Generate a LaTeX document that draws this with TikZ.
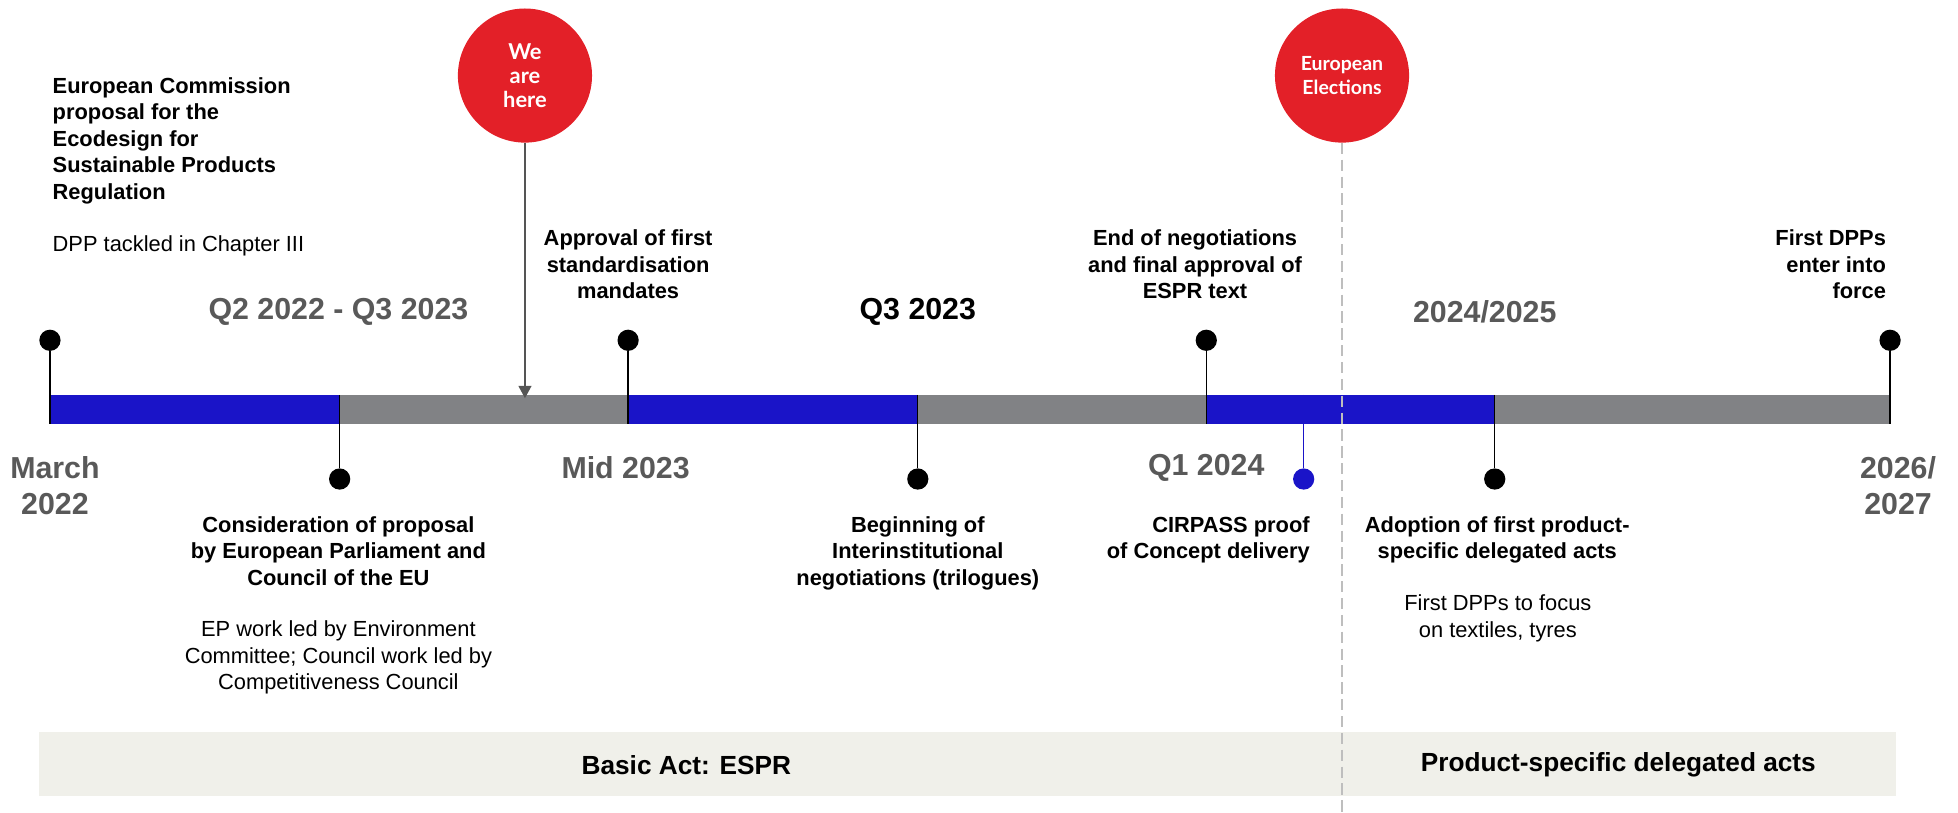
\documentclass[tikz,border=0pt]{standalone}
\usepackage{fontspec}
\setmainfont{Liberation Sans}
\newfontfamily\circfont{Lato}
\usetikzlibrary{arrows.meta}
\definecolor{barblue}{RGB}{26,20,200}
\definecolor{bargray}{RGB}{129,130,133}
\definecolor{eured}{RGB}{227,32,40}
\definecolor{labgray}{RGB}{89,89,89}
\definecolor{bandc}{RGB}{240,240,234}
\definecolor{arrowgray}{RGB}{85,85,85}
\definecolor{dashgray}{RGB}{190,190,190}
\begin{document}
\begin{tikzpicture}[x=1pt,y=-1pt,
  lbl/.style={inner sep=0pt, font=\fontsize{17.5}{21.35}\selectfont\bfseries, align=center},
  lblnorm/.style={inner sep=0pt, font=\fontsize{17.5}{21.35}\selectfont, align=center},
  big/.style={inner sep=0pt, font=\fontsize{24.3}{28.7}\selectfont\bfseries, text=labgray, align=center},
  bandtxt/.style={inner sep=0pt, font=\fontsize{21}{25}\selectfont\bfseries},
  dot/.style={circle, fill=black, inner sep=0pt, minimum size=17pt},
  stem/.style={draw=black, line width=1pt},
  redc/.style={circle, fill=eured, inner sep=0pt, minimum size=107.4pt, text=white, align=center},
  dashline/.style={draw=dashgray, line width=1.1pt, dash pattern=on 9pt off 4.5pt},
  herearrow/.style={draw=arrowgray, line width=2.2pt, -{Triangle[width=10pt,length=10pt]}}
]
\useasboundingbox (0,0) rectangle (1568,651.05);

% band
\fill[bandc] (31.5,586) rectangle (1518,637.5);

% bar segments
\fill[barblue] (40,316.3) rectangle (272,339.6);
\fill[bargray] (272,316.3) rectangle (503,339.6);
\fill[barblue] (503,316.3) rectangle (735,339.6);
\fill[bargray] (735,316.3) rectangle (966,339.6);
\fill[barblue] (966,316.3) rectangle (1197,339.6);
\fill[bargray] (1197,316.3) rectangle (1513.6,339.6);

% upper dots and stems
\node[dot] (u1) at (40,272.5) {};
\node[dot] (u2) at (503,272.5) {};
\node[dot] (u3) at (966,272.5) {};
\node[dot] (u4) at (1513.6,272.5) {};
\coordinate (u1b) at (40,339.6);
\coordinate (u2b) at (503,339.6);
\coordinate (u3b) at (966,339.6);
\coordinate (u4b) at (1513.6,339.6);
\draw[stem] (u1) -- (u1b);
\draw[stem] (u2) -- (u2b);
\draw[stem] (u3) -- (u3b);
\draw[stem] (u4) -- (u4b);

% lower dots and stems
\node[dot] (l1) at (272,383.6) {};
\node[dot] (l2) at (735,383.6) {};
\node[dot] (l3) at (1197,383.6) {};
\node[dot, fill=barblue] (lb) at (1044,383.6) {};
\coordinate (l1t) at (272,316.3);
\coordinate (l2t) at (735,316.3);
\coordinate (l3t) at (1197,316.3);
\coordinate (lbt) at (1044,316.3);
\draw[stem] (l1t) -- (l1);
\draw[stem] (l2t) -- (l2);
\draw[stem] (l3t) -- (l3);
\draw[stem, draw=barblue] (lbt) -- (lb);

% red circles
\node[redc, font=\circfont\bfseries\fontsize{17.5}{19}\selectfont] (here) at (420.4,60.5) {We\\are\\here};
\node[redc, font=\circfont\bfseries\fontsize{15.6}{18.9}\selectfont] (elec) at (1074.7,60.5) {European\\Elections};
\coordinate (hereTip) at (420.4,319);
\coordinate (elecEnd) at (1074.7,651.05);
\draw[herearrow] (here) -- (hereTip);
\draw[dashline] (elec) -- (elecEnd);

% top texts
\node[lbl, align=left, anchor=north west] (ec) at (42,61.6) {European Commission\\proposal for the\\Ecodesign for\\Sustainable Products\\Regulation};
\node[lblnorm, align=left, anchor=north west] (dpp) at (42,188.5) {DPP tackled in Chapter III};
\node[lbl, anchor=north] (appr) at (503,183.6) {Approval of first\\standardisation\\mandates};
\node[lbl, anchor=north] (endneg) at (957,183.6) {End of negotiations\\and final approval of\\ESPR text};
\node[lbl, align=right, anchor=north east] (firstdpp) at (1510.5,183.6) {First DPPs\\enter into\\force};

% period labels
\node[big] (q2) at (271,250) {Q2 2022 - Q3 2023};
\node[big, text=black] (q3) at (735,250) {Q3 2023};
\node[big] (y2425) at (1189,250) {2024/2025};
\node[big, anchor=north] (march) at (44,365.6) {March\\2022};
\node[big] (mid) at (501,374.3) {Mid 2023};
\node[big] (q1) at (966,374.3) {Q1 2024};
\node[big, anchor=north] (y2627) at (1520,365.6) {2026/\\2027};

% bottom texts
\node[lbl, anchor=north] (cons) at (271,413.2) {Consideration of proposal\\by European Parliament and\\Council of the EU};
\node[lblnorm, anchor=north] (epw) at (271,496.8) {EP work led by Environment\\Committee; Council work led by\\Competitiveness Council};
\node[lbl, anchor=north] (begin) at (735,413.2) {Beginning of\\Interinstitutional\\negotiations (trilogues)};
\node[lbl, align=right, anchor=north east] (cirp) at (1049,413.2) {CIRPASS proof\\of Concept delivery};
\node[lbl, anchor=north] (adopt) at (1199,413.2) {Adoption of first product-\\specific delegated acts};
\node[lblnorm, anchor=north] (focus) at (1199.5,476.2) {First DPPs to focus\\on textiles, tyres};

% band texts
\node[bandtxt] (basic) at (549.6,612.7) {Basic Act: ESPR};
\node[bandtxt] (psda) at (1296,612.7) {Product-specific delegated acts};
\end{tikzpicture}
\end{document}
